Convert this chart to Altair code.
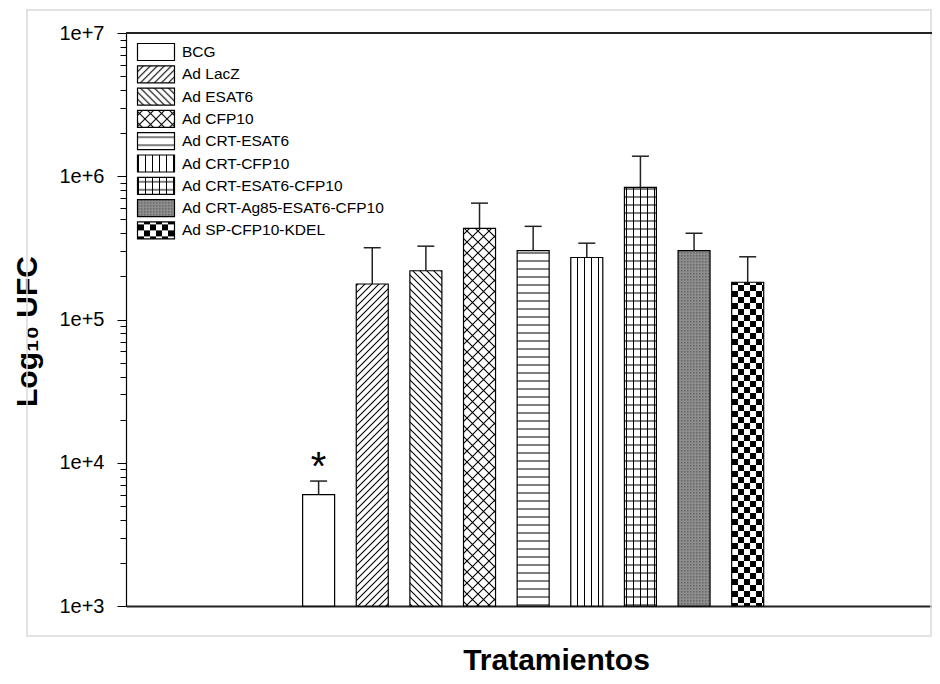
import altair as alt
import pandas as pd
import jinja2

# ---------------- data ----------------
categories = [
    "BCG",
    "Ad LacZ",
    "Ad ESAT6",
    "Ad CFP10",
    "Ad CRT-ESAT6",
    "Ad CRT-CFP10",
    "Ad CRT-ESAT6-CFP10",
    "Ad CRT-Ag85-ESAT6-CFP10",
    "Ad SP-CFP10-KDEL",
]
means = [6000, 177000, 219000, 432000, 303000, 271000, 835000, 303000, 182000]
upper = [7450, 317000, 325000, 649000, 447000, 341000, 1380000, 400000, 274000]
significance = ["*", "", "", "", "", "", "", "", ""]

y_major = [1e3, 1e4, 1e5, 1e6, 1e7]
y_ticks = [m * 10 ** e for e in range(3, 7) for m in range(1, 10)] + [1e7]

# fill patterns (defined as SVG patterns in the page template)
pattern_fills = [
    "white",
    "url(#pLacZ)",
    "url(#pESAT6)",
    "url(#pCFP10)",
    "url(#pHoriz)",
    "url(#pVert)",
    "url(#pGrid)",
    "url(#pGray)",
    "url(#pCheck)",
]

PATTERN_DEFS = """
<defs>
<pattern id="pLacZ" patternUnits="userSpaceOnUse" width="7" height="7">
  <rect width="7" height="7" fill="white"/>
  <path d="M-1,1 L1,-1 M0,7 L7,0 M6,8 L8,6" stroke="black" stroke-width="1.1"/>
</pattern>
<pattern id="pESAT6" patternUnits="userSpaceOnUse" width="7" height="7">
  <rect width="7" height="7" fill="white"/>
  <path d="M-1,6 L1,8 M0,0 L7,7 M6,-1 L8,1" stroke="black" stroke-width="1.1"/>
</pattern>
<pattern id="pCFP10" patternUnits="userSpaceOnUse" width="11" height="11">
  <rect width="11" height="11" fill="white"/>
  <path d="M-1,-1 L12,12 M12,-1 L-1,12" stroke="black" stroke-width="1.1"/>
</pattern>
<pattern id="pHoriz" patternUnits="userSpaceOnUse" width="8" height="8">
  <rect width="8" height="8" fill="white"/>
  <path d="M0,4 H8" stroke="black" stroke-width="1"/>
</pattern>
<pattern id="pVert" patternUnits="userSpaceOnUse" width="7" height="7">
  <rect width="7" height="7" fill="white"/>
  <path d="M3.5,0 V7" stroke="black" stroke-width="1"/>
</pattern>
<pattern id="pGrid" patternUnits="userSpaceOnUse" width="7" height="8">
  <rect width="7" height="8" fill="white"/>
  <path d="M0,4 H7 M3.5,0 V8" stroke="black" stroke-width="1"/>
</pattern>
<pattern id="pGray" patternUnits="userSpaceOnUse" width="3" height="3">
  <rect width="3" height="3" fill="#8e8e8e"/>
  <rect width="1.5" height="1.5" fill="#666666"/>
</pattern>
<pattern id="pCheck" patternUnits="userSpaceOnUse" width="12" height="12">
  <rect width="12" height="12" fill="white"/>
  <rect width="6" height="6" fill="black"/>
  <rect x="6" y="6" width="6" height="6" fill="black"/>
</pattern>
</defs>
"""

PAGE = jinja2.Template(
    """<!DOCTYPE html>
<html>
<head>
<meta charset="utf-8">
<style>
#{{ output_div }}.vega-embed { width: 100%; display: flex; }
</style>
<script type="text/javascript" src="{{ base_url }}/vega@{{ vega_version }}"></script>
<script type="text/javascript" src="{{ base_url }}/vega-lite@{{ vegalite_version }}"></script>
<script type="text/javascript" src="{{ base_url }}/vega-embed@{{ vegaembed_version }}"></script>
</head>
<body>
<svg width="0" height="0" style="position:absolute">"""
    + PATTERN_DEFS
    + """</svg>
<div id="{{ output_div }}"></div>
<script type="text/javascript">
  vegaEmbed("#{{ output_div }}", {{ spec }}, {{ embed_options }}).catch(console.error);
</script>
</body>
</html>"""
)

df = pd.DataFrame({"trat": categories, "ufc": means, "hi": upper, "sig": significance})

MAJOR = "abs(log(datum.value)/LN10 - round(log(datum.value)/LN10)) < 0.000001"

W = 806
H = 573

xscale = alt.Scale(domain=[-2.498, 12.343], nice=False, zero=False)
yscale = alt.Scale(type="log", domain=[1e3, 1e7], nice=False)

x_axis = alt.Axis(
    ticks=False, labels=False, grid=False, domain=True,
    domainColor="#222222", domainWidth=1.8,
    title="Tratamientos", titleFont="Liberation Sans", titleFontSize=30,
    titleFontWeight="bold", titleColor="black",
    titleX=430, titleY=63, titleAlign="center", titleBaseline="alphabetic",
)
y_axis = alt.Axis(
    values=y_ticks,
    labelExpr=MAJOR + " ? '1e+' + round(log(datum.value)/LN10) : ''",
    tickSize={"condition": {"test": MAJOR, "value": 9}, "value": 6},
    tickColor="black", tickWidth=1,
    domainColor="black", domainWidth=1.2,
    labelFont="Liberation Sans", labelFontSize=20, labelColor="black",
    labelPadding=13, labelOverlap=False, grid=False,
    title="Log₁₀ UFC", titleFont="Liberation Sans", titleFontSize=30,
    titleFontWeight="bold", titleColor="black", titleAngle=270,
    titleX=-90, titleY=298, titleAlign="center", titleBaseline="alphabetic",
)

base = alt.Chart(df).transform_window(pos="row_number()")

frame = alt.Chart(alt.Data(values=[{"a": 1}])).mark_rect(
    fillOpacity=0, stroke="#d9d9d9", strokeWidth=1.5
).encode(x=alt.value(-99), x2=alt.value(W - 1), y=alt.value(-23), y2=alt.value(603))

bars = base.mark_bar(size=32, stroke="black", strokeWidth=1.2).encode(
    x=alt.X("pos:Q", scale=xscale, axis=x_axis),
    y=alt.Y("ufc:Q", scale=yscale, axis=y_axis),
    y2=alt.datum(1000),
    fill=alt.Fill(
        "trat:N",
        scale=alt.Scale(domain=categories, range=pattern_fills),
        legend=alt.Legend(
            title=None, orient="none", legendX=20, legendY=9, padding=0,
            symbolType="M-2,-0.92H2V0.92H-2Z", symbolSize=342,
            symbolStrokeColor="black", symbolStrokeWidth=1.2, symbolOpacity=1,
            labelFont="Liberation Sans", labelFontSize=15.5, labelColor="black",
            labelOffset=16, labelLimit=400, rowPadding=0.3,
        ),
    ),
)

err = base.mark_rule(stroke="#222222", strokeWidth=1.5).encode(
    x="pos:Q", y="ufc:Q", y2="hi:Q"
)
caps = base.mark_rule(stroke="#222222", strokeWidth=1.5, xOffset=-8.5, x2Offset=8.5).encode(
    x="pos:Q", x2="pos:Q", y="hi:Q"
)
star = base.transform_filter("datum.sig != ''").mark_text(
    font="Liberation Sans", fontSize=40, dy=-1, baseline="alphabetic",
    align="center", color="black",
).encode(x="pos:Q", y="hi:Q", text="sig:N")

top = alt.Chart(alt.Data(values=[{"a": 1}])).mark_rule(
    stroke="#222222", strokeWidth=1.8
).encode(y=alt.datum(1e7), x=alt.value(0), x2=alt.value(W))

chart = (
    alt.layer(frame, bars, err, caps, star, top)
    .properties(
        width=W,
        height=H,
        autosize=alt.AutoSizeParams(type="none"),
        padding={"left": 118, "top": 25, "right": 0, "bottom": 70},
    )
    .configure_view(stroke="transparent")
)

chart.save("out.html", embed_options={"renderer": "svg", "actions": False}, template=PAGE)
